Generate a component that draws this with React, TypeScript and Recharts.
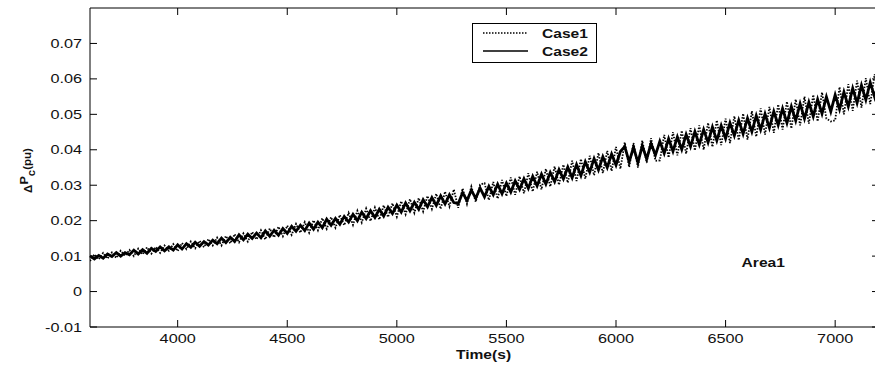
import { LineChart, Line, XAxis, YAxis, Legend, ReferenceDot } from "recharts";

// sample times (s)
const times = [
  3600, 3620, 3640, 3660, 3680, 3700, 3720, 3740, 3760, 3780,
  3800, 3820, 3840, 3860, 3880, 3900, 3920, 3940, 3960, 3980,
  4000, 4020, 4040, 4060, 4080, 4100, 4120, 4140, 4160, 4180,
  4200, 4220, 4240, 4260, 4280, 4300, 4320, 4340, 4360, 4380,
  4400, 4420, 4440, 4460, 4480, 4500, 4520, 4540, 4560, 4580,
  4600, 4620, 4640, 4660, 4680, 4700, 4720, 4740, 4760, 4780,
  4800, 4820, 4840, 4860, 4880, 4900, 4920, 4940, 4960, 4980,
  5000, 5020, 5040, 5060, 5080, 5100, 5120, 5140, 5160, 5180,
  5200, 5220, 5240, 5260, 5280, 5300, 5320, 5340, 5360, 5380,
  5400, 5420, 5440, 5460, 5480, 5500, 5520, 5540, 5560, 5580,
  5600, 5620, 5640, 5660, 5680, 5700, 5720, 5740, 5760, 5780,
  5800, 5820, 5840, 5860, 5880, 5900, 5920, 5940, 5960, 5980,
  6000, 6020, 6040, 6060, 6080, 6100, 6120, 6140, 6160, 6180,
  6200, 6220, 6240, 6260, 6280, 6300, 6320, 6340, 6360, 6380,
  6400, 6420, 6440, 6460, 6480, 6500, 6520, 6540, 6560, 6580,
  6600, 6620, 6640, 6660, 6680, 6700, 6720, 6740, 6760, 6780,
  6800, 6820, 6840, 6860, 6880, 6900, 6920, 6940, 6960, 6980,
  7000, 7020, 7040, 7060, 7080, 7100, 7120, 7140, 7160, 7180, 7200,
];

const case1 = [
  0.0086, 0.0105, 0.0091, 0.0109, 0.0093, 0.0110, 0.0095, 0.0115, 0.0101, 0.0117,
  0.0100, 0.0121, 0.0105, 0.0125, 0.0107, 0.0126, 0.0109, 0.0130, 0.0115, 0.0134,
  0.0114, 0.0137, 0.0120, 0.0141, 0.0122, 0.0143, 0.0125, 0.0148, 0.0130, 0.0152,
  0.0130, 0.0157, 0.0136, 0.0162, 0.0139, 0.0164, 0.0141, 0.0168, 0.0147, 0.0173,
  0.0147, 0.0178, 0.0153, 0.0183, 0.0156, 0.0186, 0.0160, 0.0191, 0.0166, 0.0196,
  0.0166, 0.0201, 0.0173, 0.0207, 0.0177, 0.0210, 0.0180, 0.0216, 0.0187, 0.0222,
  0.0188, 0.0228, 0.0195, 0.0234, 0.0199, 0.0237, 0.0203, 0.0243, 0.0210, 0.0249,
  0.0211, 0.0255, 0.0218, 0.0261, 0.0222, 0.0264, 0.0226, 0.0270, 0.0233, 0.0276,
  0.0233, 0.0282, 0.0240, 0.0288, 0.0236, 0.0291, 0.0247, 0.0296, 0.0253, 0.0302,
  0.0306, 0.0258, 0.0309, 0.0262, 0.0315, 0.0269, 0.0322, 0.0273, 0.0325, 0.0277,
  0.0334, 0.0282, 0.0338, 0.0288, 0.0346, 0.0296, 0.0353, 0.0301, 0.0358, 0.0307,
  0.0369, 0.0312, 0.0374, 0.0318, 0.0383, 0.0328, 0.0391, 0.0334, 0.0397, 0.0340,
  0.0408, 0.0346, 0.0421, 0.0351, 0.0419, 0.0350, 0.0426, 0.0364, 0.0433, 0.0369,
  0.0370, 0.0442, 0.0378, 0.0450, 0.0384, 0.0454, 0.0389, 0.0461, 0.0398, 0.0469,
  0.0400, 0.0476, 0.0408, 0.0483, 0.0413, 0.0488, 0.0419, 0.0495, 0.0427, 0.0502,
  0.0429, 0.0509, 0.0437, 0.0517, 0.0443, 0.0521, 0.0448, 0.0528, 0.0457, 0.0536,
  0.0460, 0.0542, 0.0469, 0.0550, 0.0474, 0.0555, 0.0480, 0.0562, 0.0488, 0.0480,
  0.0483, 0.0577, 0.0500, 0.0585, 0.0510, 0.0595, 0.0519, 0.0602, 0.0529, 0.0613, 0.0550,
];

const case2 = [
  0.0101, 0.0092, 0.0102, 0.0094, 0.0106, 0.0099, 0.0110, 0.0100, 0.0110, 0.0104,
  0.0117, 0.0106, 0.0118, 0.0108, 0.0122, 0.0113, 0.0126, 0.0115, 0.0126, 0.0117,
  0.0132, 0.0120, 0.0135, 0.0125, 0.0139, 0.0128, 0.0141, 0.0131, 0.0145, 0.0135,
  0.0151, 0.0138, 0.0153, 0.0141, 0.0160, 0.0146, 0.0162, 0.0150, 0.0165, 0.0152,
  0.0171, 0.0156, 0.0173, 0.0159, 0.0178, 0.0164, 0.0184, 0.0170, 0.0187, 0.0172,
  0.0193, 0.0176, 0.0196, 0.0180, 0.0204, 0.0187, 0.0206, 0.0190, 0.0212, 0.0196,
  0.0218, 0.0200, 0.0224, 0.0206, 0.0228, 0.0209, 0.0232, 0.0213, 0.0238, 0.0220,
  0.0244, 0.0224, 0.0250, 0.0228, 0.0252, 0.0232, 0.0259, 0.0239, 0.0265, 0.0243,
  0.0270, 0.0247, 0.0273, 0.0251, 0.0248, 0.0279, 0.0257, 0.0286, 0.0263, 0.0292,
  0.0267, 0.0297, 0.0273, 0.0303, 0.0276, 0.0306, 0.0281, 0.0312, 0.0288, 0.0318,
  0.0291, 0.0325, 0.0298, 0.0331, 0.0303, 0.0336, 0.0310, 0.0344, 0.0318, 0.0351,
  0.0321, 0.0358, 0.0327, 0.0366, 0.0337, 0.0375, 0.0343, 0.0380, 0.0350, 0.0388,
  0.0357, 0.0395, 0.0409, 0.0366, 0.0407, 0.0364, 0.0411, 0.0374, 0.0417, 0.0385,
  0.0424, 0.0390, 0.0431, 0.0396, 0.0436, 0.0401, 0.0443, 0.0409, 0.0451, 0.0415,
  0.0457, 0.0421, 0.0464, 0.0426, 0.0468, 0.0432, 0.0476, 0.0440, 0.0483, 0.0445,
  0.0489, 0.0451, 0.0496, 0.0457, 0.0501, 0.0462, 0.0508, 0.0470, 0.0516, 0.0476,
  0.0522, 0.0482, 0.0530, 0.0488, 0.0534, 0.0494, 0.0542, 0.0502, 0.0549, 0.0508,
  0.0555, 0.0514, 0.0563, 0.0522, 0.0573, 0.0532, 0.0582, 0.0541, 0.0590, 0.0549, 0.0595,
];

const xTicks = [4000, 4500, 5000, 5500, 6000, 6500, 7000];
const yTicks = [-0.01, 0, 0.01, 0.02, 0.03, 0.04, 0.05, 0.06, 0.07];

const data = times.map((t, i) => ({ t, case1: case1[i], case2: case2[i] }));

const FONT = "'Liberation Sans', Arial, sans-serif";
const TICK = 7;

// text stretched horizontally, like the old matlab export
const Stretch = ({ x, y, anchor = "start", bold = false, size = 12.5, children }: any) => (
  <g transform={`translate(${x},${y}) scale(1.3,1)`}>
    <text
      textAnchor={anchor}
      fontFamily={FONT}
      fontSize={size}
      fontWeight={bold ? 700 : 400}
      fill="#111"
    >
      {children}
    </text>
  </g>
);

// tick lines are drawn by recharts (negative size = inward), these only place the labels
const BottomTick = ({ x, y, payload }: any) => (
  <Stretch x={x} y={y + 16} anchor="middle">
    {payload.value}
  </Stretch>
);

const LeftTick = ({ x, y, payload }: any) => (
  <Stretch x={x - 8} y={y + 4.5} anchor="end">
    {payload.value}
  </Stretch>
);

const NoLabel = () => <g />;

const XLabel = ({ viewBox }: any) => (
  <Stretch x={viewBox.x + viewBox.width / 2 - 1} y={viewBox.y + 32} anchor="middle" bold size={12}>
    Time(s)
  </Stretch>
);

const YLabel = ({ viewBox }: any) => (
  <text
    transform={`translate(${viewBox.x + 32},${viewBox.y + viewBox.height / 2 + 3}) rotate(-90) scale(1.15,1)`}
    textAnchor="middle"
    fontFamily={FONT}
    fontWeight={700}
    fontSize={11}
    fill="#111"
  >
    <tspan fontSize={10}>Δ</tspan>
    <tspan dy={-4}>P</tspan>
    <tspan dy={7} fontSize={10}>c</tspan>
    <tspan dy={-4} fontSize={10}>(pu)</tspan>
  </text>
);

const AreaLabel = ({ viewBox }: any) => (
  <Stretch x={viewBox.x} y={viewBox.y + 4.5} anchor="middle" bold size={12}>
    Area1
  </Stretch>
);

const LegendBox = ({ payload }: any) => (
  <div style={{ border: "1px solid #000", background: "#fff", width: 123, height: 38 }}>
    <svg width={123} height={38} style={{ display: "block" }}>
      {(payload || []).map((e: any, i: number) => (
        <g key={e.value}>
          <line
            x1={10}
            x2={55}
            y1={9 + i * 18}
            y2={9 + i * 18}
            stroke="#000"
            strokeWidth={1.3}
            strokeDasharray={e.payload?.strokeDasharray}
          />
          <Stretch x={69} y={13.5 + i * 18} bold size={12}>
            {e.value}
          </Stretch>
        </g>
      ))}
    </svg>
  </div>
);

const axisLine = { stroke: "#000" };
const tickLine = { stroke: "#000" };

export default function App() {
  return (
    <div
      style={{
        position: "absolute",
        left: 0,
        top: 0,
        width: 875,
        height: 366,
        overflow: "hidden",
        background: "#fff",
      }}
    >
      {/* the figure is cut off on the right, so the svg is wider than the page */}
      <LineChart width={888} height={366} data={data} margin={{ top: 7, right: 8, bottom: 9, left: 0 }}>
        <XAxis
          dataKey="t"
          type="number"
          domain={[3600, 7200]}
          ticks={xTicks}
          interval={0}
          height={30}
          tickSize={-TICK}
          tickMargin={TICK}
          tickLine={tickLine}
          tick={<BottomTick />}
          axisLine={axisLine}
          label={{ content: XLabel }}
        />
        {/* top and right axes close the box, as matlab does */}
        <XAxis
          xAxisId="top"
          orientation="top"
          dataKey="t"
          type="number"
          domain={[3600, 7200]}
          allowDataOverflow
          ticks={xTicks}
          interval={0}
          height={1}
          tickSize={-TICK}
          tickMargin={0}
          tickLine={tickLine}
          tick={<NoLabel />}
          axisLine={axisLine}
        />
        <YAxis
          type="number"
          domain={[-0.01, 0.08]}
          allowDataOverflow
          ticks={yTicks}
          interval={0}
          width={90}
          tickSize={-TICK}
          tickMargin={TICK}
          tickLine={tickLine}
          tick={<LeftTick />}
          axisLine={axisLine}
          label={{ content: YLabel }}
        />
        <YAxis
          yAxisId="right"
          orientation="right"
          type="number"
          domain={[-0.01, 0.08]}
          allowDataOverflow
          ticks={yTicks}
          interval={0}
          width={1}
          tickSize={-TICK}
          tickMargin={0}
          tickLine={tickLine}
          tick={<NoLabel />}
          axisLine={axisLine}
        />
        <Legend
          layout="horizontal"
          verticalAlign="middle"
          align="center"
          content={LegendBox}
          wrapperStyle={{ position: "absolute", left: 472, top: 23, width: "auto" }}
        />
        <Line
          name="Case1"
          dataKey="case1"
          xAxisId="top"
          yAxisId="right"
          stroke="#000"
          strokeWidth={1.8}
          strokeDasharray="1.5 1.5"
          dot={false}
          isAnimationActive={false}
        />
        <Line
          name="Case2"
          dataKey="case2"
          stroke="#000"
          strokeWidth={2.8}
          dot={false}
          isAnimationActive={false}
        />
        <ReferenceDot x={6672} y={0.0081} r={0} fill="none" stroke="none" label={{ content: AreaLabel }} />
      </LineChart>
    </div>
  );
}
